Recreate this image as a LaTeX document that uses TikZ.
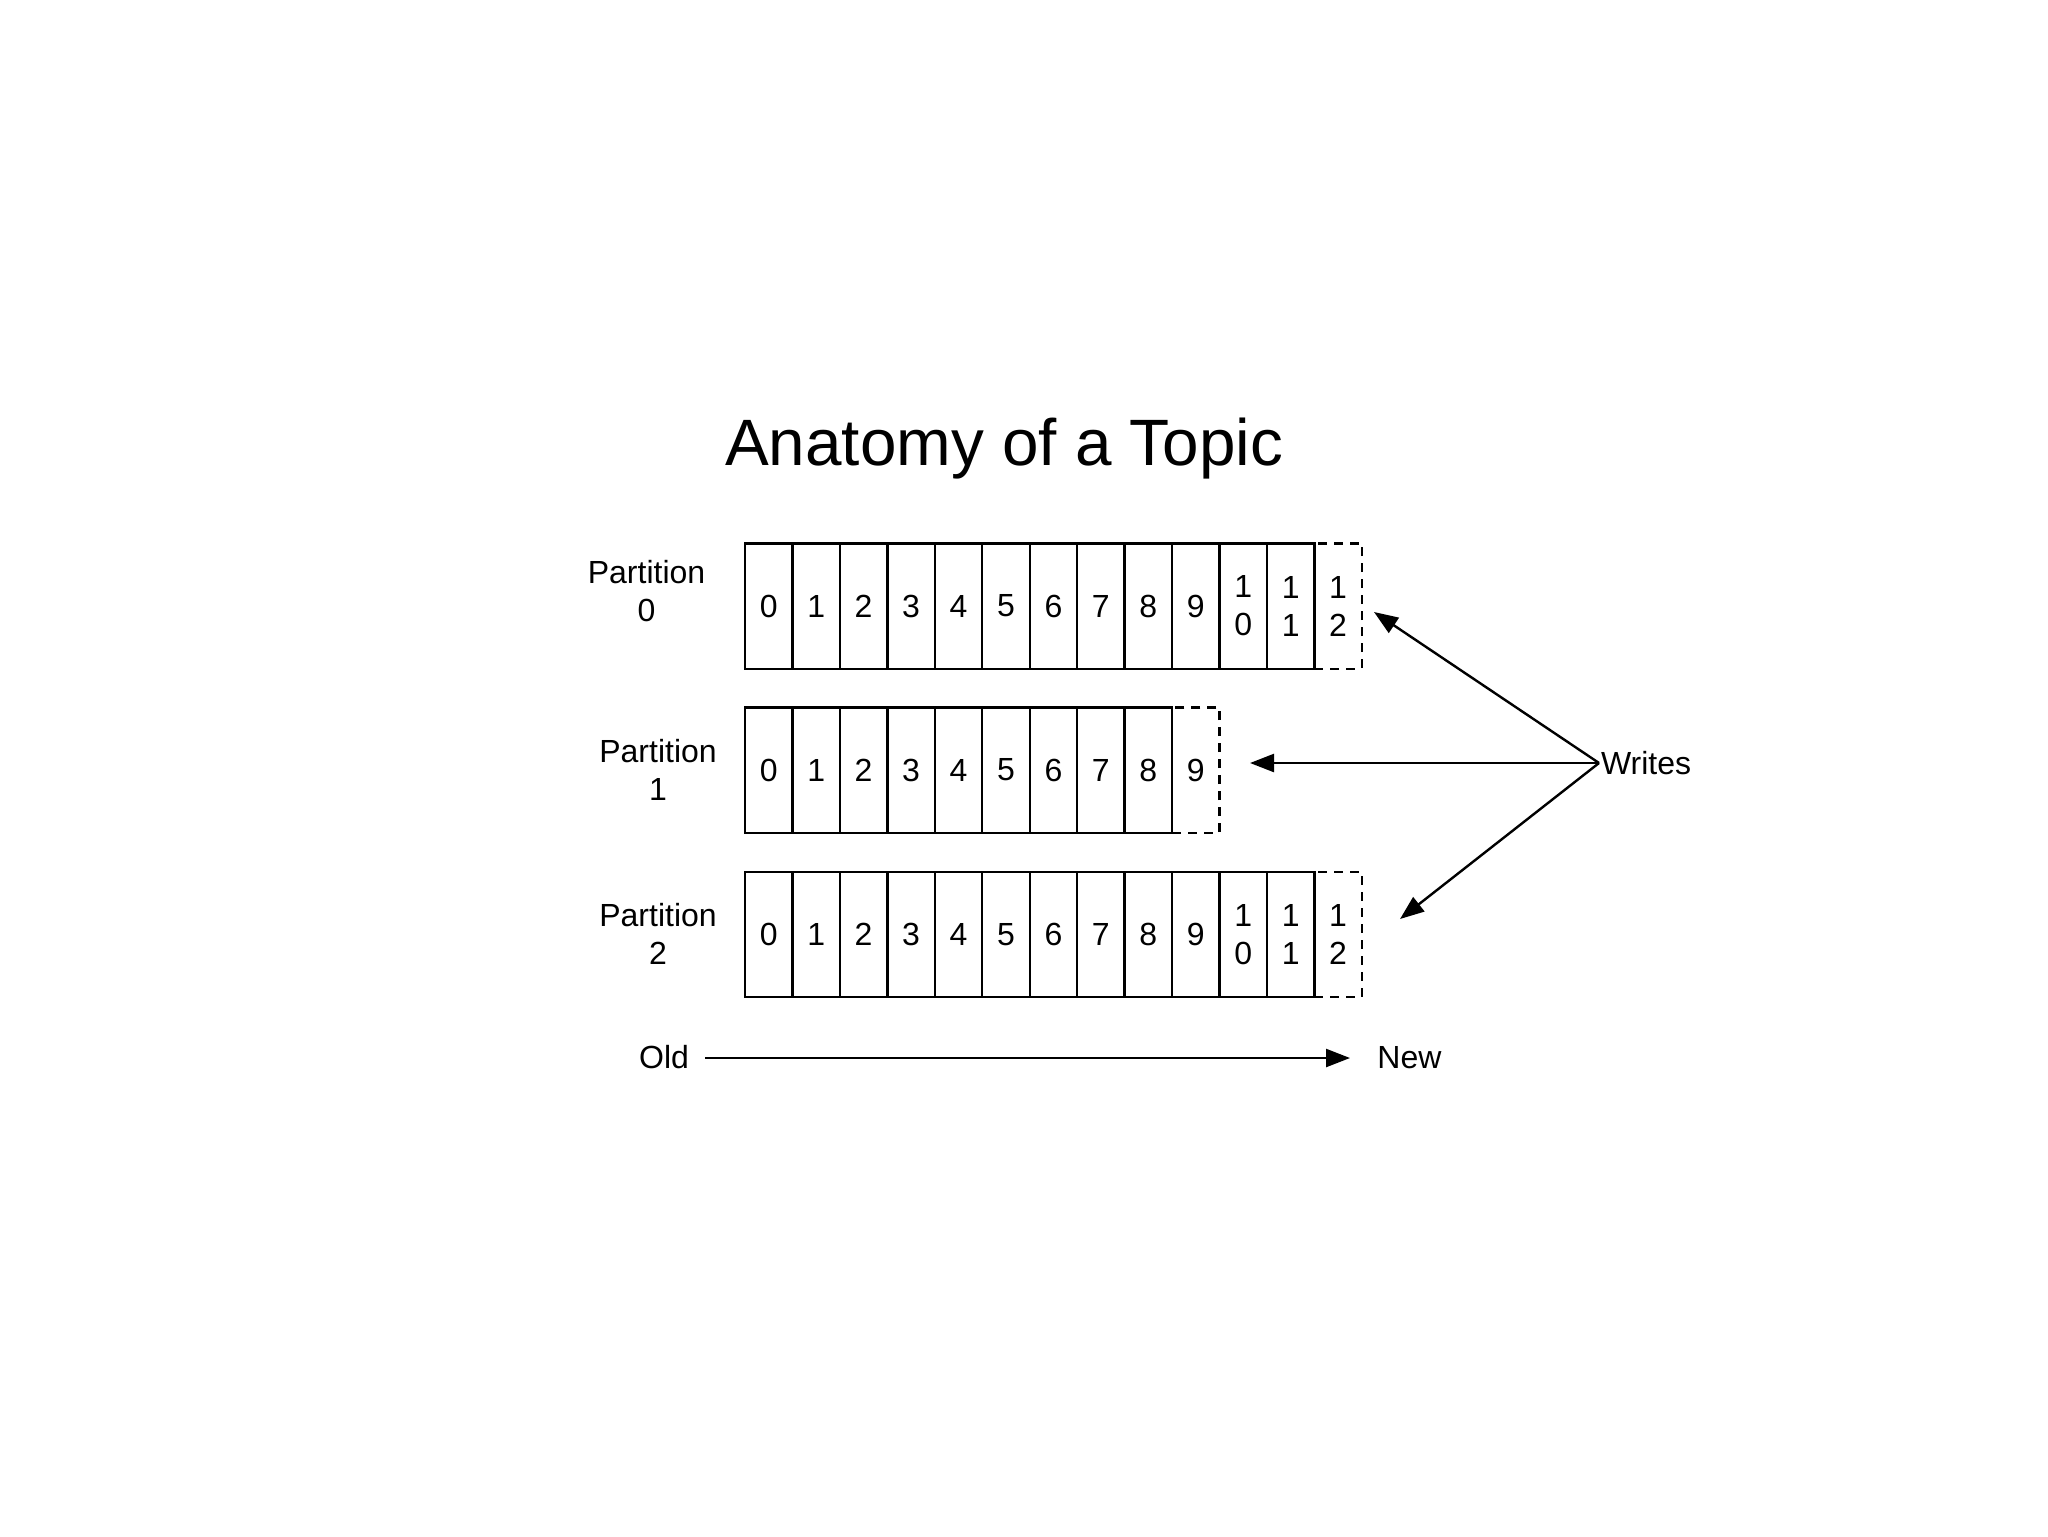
\documentclass[tikz,border=0pt]{standalone}
\usepackage{fontspec}
\setmainfont{Liberation Sans}
\usetikzlibrary{arrows.meta}
\tikzset{
  cell/.style={draw=black, line width=1.2pt, minimum width=23.72pt, minimum height=62.7pt, inner sep=0pt, align=center, font=\fontsize{16}{19}\selectfont},
  newcell/.style={cell, dashed, dash pattern=on 4.5pt off 3.5pt},
  lbl/.style={align=center, inner sep=0pt, font=\fontsize{16}{19}\selectfont},
  arr/.style={line width=1.2pt, -{Triangle[length=12pt,width=9pt]}},
}
\begin{document}
\begin{tikzpicture}[x=0.5pt, y=-0.5pt]
\useasboundingbox (0,0) rectangle (2048,1536);
\node[anchor=base, inner sep=0pt, font=\fontsize{32.8}{40}\selectfont] (title) at (1004,465) {Anatomy of a Topic};
% Partition 0
\node[newcell] (p0c12) at ({745+23.72+12*47.45},606) {1\\2};
\foreach \i in {0,...,9} \node[cell] (p0c\i) at ({745+23.72+\i*47.45},606) {\i};
\node[cell] (p0c10) at ({745+23.72+10*47.45},606) {1\\0};
\node[cell] (p0c11) at ({745+23.72+11*47.45},606) {1\\1};
% Partition 1
\node[newcell] (p1c9) at ({745+23.72+9*47.45},770) {9};
\foreach \i in {0,...,8} \node[cell] (p1c\i) at ({745+23.72+\i*47.45},770) {\i};
% Partition 2
\node[newcell] (p2c12) at ({745+23.72+12*47.45},934.5) {1\\2};
\foreach \i in {0,...,9} \node[cell] (p2c\i) at ({745+23.72+\i*47.45},934.5) {\i};
\node[cell] (p2c10) at ({745+23.72+10*47.45},934.5) {1\\0};
\node[cell] (p2c11) at ({745+23.72+11*47.45},934.5) {1\\1};
% labels
\node[lbl] (l0) at (646.5,591) {Partition\\0};
\node[lbl] (l1) at (658,769.5) {Partition\\1};
\node[lbl] (l2) at (658,934) {Partition\\2};
% writes
\node[lbl, anchor=west, inner sep=0.8pt] (writes) at (1599,763) {Writes};
\coordinate (t0) at (1374,612);
\coordinate (t1) at (1250,763);
\coordinate (t2) at (1400,919);
\draw[arr] (writes.west) -- (t0);
\draw[arr] (writes.west) -- (t1);
\draw[arr] (writes.west) -- (t2);
% old / new
\node[lbl, anchor=base] (old) at (664,1068) {Old};
\node[lbl, anchor=base west] (new) at (1377,1068) {New};
\coordinate (oa) at (705,1058);
\coordinate (ob) at (1350,1058);
\draw[arr] (oa) -- (ob);
\end{tikzpicture}
\end{document}
